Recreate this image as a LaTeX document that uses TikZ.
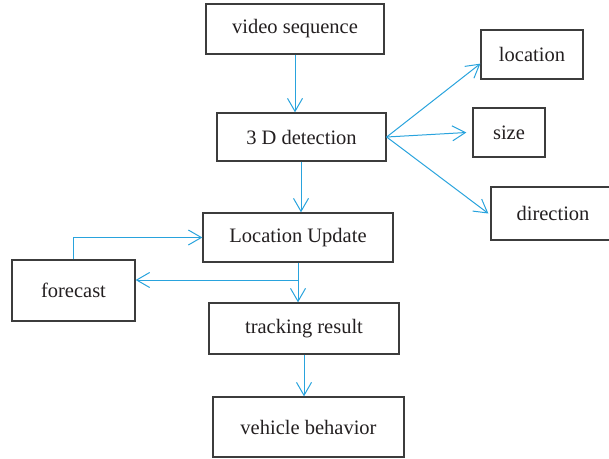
\documentclass[tikz,border=0pt]{standalone}
\usepackage{fontspec}
\setmainfont{Liberation Serif}
\usetikzlibrary{arrows.meta}
\definecolor{linkblue}{RGB}{41,163,221}
\definecolor{boxgray}{RGB}{60,60,60}
\definecolor{txt}{RGB}{35,31,32}
\begin{document}
\begin{tikzpicture}[x=1pt,y=-1pt,
  box/.style={draw=boxgray,line width=1.3pt,rectangle,inner sep=0pt,
    text=txt,font=\fontsize{20.5}{24}\selectfont},
  link/.style={draw=linkblue,line width=1pt,
    -{Straight Barb[length=13pt,width=15pt,line width=1pt]}}]
\useasboundingbox (0,0) rectangle (609,458);

% boxes
\node[box,minimum width=178pt,minimum height=50pt] (video) at (295,29) {video sequence};
\node[box,minimum width=169pt,minimum height=48pt] (det) at (301.5,137) {3 D detection};
\node[box,minimum width=102pt,minimum height=49pt] (loc) at (532,54.5) {location};
\node[box,minimum width=72pt,minimum height=49pt] (size) at (509,132.5) {size};
\node[box,minimum width=124pt,minimum height=53pt] (dir) at (553,213.5) {direction};
\node[box,minimum width=190pt,minimum height=49pt] (upd) at (298,237.5) {Location Update};
\node[box,minimum width=123pt,minimum height=61pt] (fore) at (73.5,290.5) {forecast};
\node[box,minimum width=190pt,minimum height=51pt] (track) at (304,328.5) {tracking result};
\node[box,minimum width=191pt,minimum height=60pt] (veh) at (308.5,427) {vehicle behavior};

\coordinate (br) at (298,280);

% connectors
\draw[link] (video.south) -- (video.south |- det.north);
\draw[link] (det.east) -- ([yshift=16pt]loc.south west);
\draw[link] (det.east) -- ([xshift=-6pt]size.west);
\draw[link] (det.east) -- ([xshift=-2pt]dir.west);
\draw[link] ([xshift=-0.5pt]det.south) -- ([xshift=-0.5pt]det.south |- upd.north);
\draw[link] (upd.south) -- (upd.south |- track.north);
\draw[link] (br) -- (fore.east |- br);
\draw[link] (fore.north) |- (upd.west);
\draw[link] (track.south) -- (track.south |- veh.north);
\end{tikzpicture}
\end{document}
